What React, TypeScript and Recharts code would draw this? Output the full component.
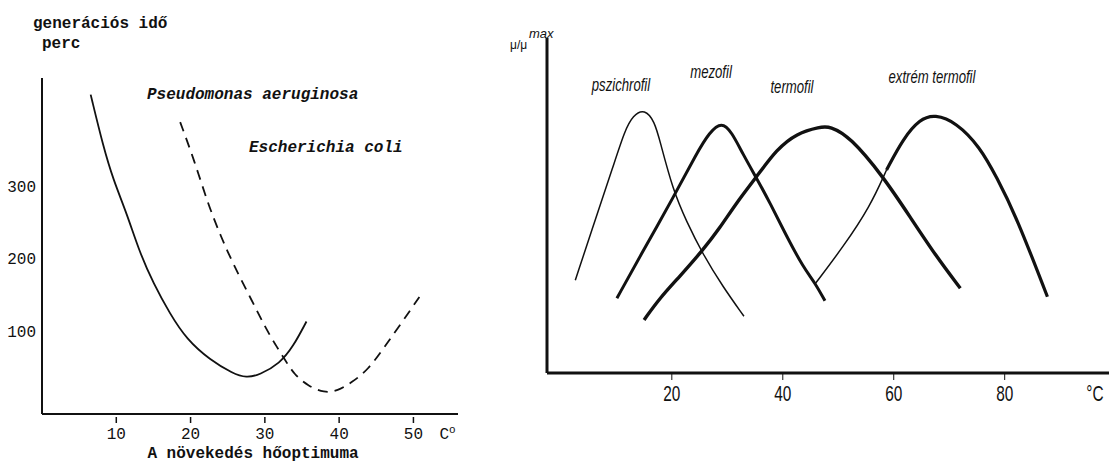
import { LineChart, Line, XAxis, YAxis } from "recharts";

const MONO = '"Liberation Mono", "Courier New", monospace';
const SANS = '"Liberation Sans", Arial, sans-serif';
const INK = "#111";

// left: generation time (perc) against temperature
const leftTempTicks = [10, 20, 30, 40, 50];
const leftTimeTicks = [100, 200, 300];
const leftUnitTick = 54.6;

const pseudomonas = [
  { t: 6.55, g: 427 }, { t: 8.25, g: 355 }, { t: 9.6, g: 309 }, { t: 11.4, g: 263 },
  { t: 13.2, g: 207 }, { t: 15.0, g: 166 }, { t: 17.2, g: 124 }, { t: 19.5, g: 88 },
  { t: 22.6, g: 60 }, { t: 25.7, g: 41 }, { t: 27.5, g: 35 }, { t: 29.3, g: 39 },
  { t: 32.0, g: 55 }, { t: 33.8, g: 78 }, { t: 35.6, g: 113 },
];

const ecoli = [
  { t: 18.6, g: 389 }, { t: 20.5, g: 336 }, { t: 22.3, g: 277 }, { t: 24.1, g: 230 },
  { t: 25.9, g: 189 }, { t: 28.2, g: 143 }, { t: 30.0, g: 106 }, { t: 31.3, g: 83 },
  { t: 32.7, g: 60 }, { t: 34.0, g: 39 }, { t: 35.8, g: 24 }, { t: 38.0, g: 14 },
  { t: 39.8, g: 17 }, { t: 41.6, g: 28 }, { t: 43.9, g: 46 }, { t: 46.1, g: 78 },
  { t: 48.4, g: 111 }, { t: 50.8, g: 147 },
];

// right: relative growth rate (mu/mu max) against temperature
const rightTempTicks = [20, 40, 60, 80];
const rightUnitTick = 97.2;

const psychrophile = [
  { t: 2.6, r: 0.36 }, { t: 6.4, r: 0.608 }, { t: 9.4, r: 0.8 }, { t: 11.5, r: 0.94 },
  { t: 13.0, r: 1.0 }, { t: 15.1, r: 1.025 }, { t: 16.9, r: 0.975 }, { t: 17.8, r: 0.905 },
  { t: 20.2, r: 0.71 }, { t: 22.6, r: 0.59 }, { t: 25.6, r: 0.46 }, { t: 29.2, r: 0.335 },
  { t: 33.0, r: 0.22 },
];

const mesophile = [
  { t: 10.1, r: 0.29 }, { t: 14.2, r: 0.45 }, { t: 20.5, r: 0.69 }, { t: 24.4, r: 0.85 },
  { t: 26.8, r: 0.935 }, { t: 29.0, r: 0.975 }, { t: 30.8, r: 0.935 }, { t: 32.8, r: 0.85 },
  { t: 35.3, r: 0.755 }, { t: 37.7, r: 0.66 }, { t: 40.7, r: 0.53 }, { t: 43.7, r: 0.41 },
  { t: 45.8, r: 0.35 }, { t: 47.6, r: 0.28 },
];

const thermophile = [
  { t: 15.0, r: 0.206 }, { t: 17.8, r: 0.29 }, { t: 21.4, r: 0.374 }, { t: 25.6, r: 0.477 },
  { t: 28.6, r: 0.561 }, { t: 31.6, r: 0.659 }, { t: 35.3, r: 0.762 }, { t: 38.9, r: 0.868 },
  { t: 42.5, r: 0.93 }, { t: 46.7, r: 0.955 }, { t: 48.5, r: 0.958 }, { t: 52.1, r: 0.917 },
  { t: 58.1, r: 0.762 }, { t: 62.9, r: 0.607 }, { t: 67.7, r: 0.451 }, { t: 72.0, r: 0.329 },
];

// extreme thermophile: the rising stretch is drawn thinner in the original
const extremeRise = [
  { t: 45.9, r: 0.348 }, { t: 50.9, r: 0.49 }, { t: 55.7, r: 0.645 }, { t: 58.7, r: 0.788 },
];
const extremeMain = [
  { t: 58.7, r: 0.788 }, { t: 61.7, r: 0.91 }, { t: 64.7, r: 0.985 }, { t: 67.4, r: 1.004 },
  { t: 71.3, r: 0.972 }, { t: 75.5, r: 0.878 }, { t: 78.5, r: 0.762 }, { t: 82.1, r: 0.607 },
  { t: 87.7, r: 0.296 },
];

function LeftTempTick(props: any) {
  const { x, y, payload } = props;
  if (payload.value === leftUnitTick) {
    return (
      <text x={x} y={y + 25} textAnchor="middle" fontFamily={MONO} fontSize={16} fill={INK}>
        C<tspan dy={-6} fontSize={11}>o</tspan>
      </text>
    );
  }
  return (
    <g>
      <line x1={x} y1={y + 3} x2={x} y2={y + 9} stroke={INK} strokeWidth={1.5} />
      <text x={x} y={y + 25} textAnchor="middle" fontFamily={MONO} fontSize={16} fill={INK}>
        {payload.value}
      </text>
    </g>
  );
}

function RightTempTick(props: any) {
  const { x, y, payload } = props;
  const isUnit = payload.value === rightUnitTick;
  return (
    <g>
      {!isUnit && <line x1={x} y1={y + 1} x2={x} y2={y + 7} stroke={INK} strokeWidth={1} />}
      <text
        x={0}
        y={0}
        transform={`translate(${x},${y + 28}) scale(0.7,1)`}
        textAnchor="middle"
        fontFamily={SANS}
        fontSize={22}
        fill={INK}
      >
        {isUnit ? "°C" : payload.value}
      </text>
    </g>
  );
}

const abs = (left: number, top: number, extra: any = {}) => ({
  position: "absolute" as const,
  left,
  top,
  whiteSpace: "nowrap" as const,
  lineHeight: 1,
  color: INK,
  ...extra,
});

const monoLabel = { fontFamily: MONO, fontSize: 16, fontWeight: "bold" };
const curveLabel = {
  fontFamily: SANS,
  fontSize: 18,
  fontStyle: "italic",
  transform: "translate(-50%, -50%) scaleX(0.73)",
};

export default function App() {
  return (
    <div style={{ position: "fixed", left: 0, top: 0, width: 1109, height: 462, background: "#fff", overflow: "hidden" }}>
      <div style={{ position: "absolute", left: 0, top: 0 }}>
        <LineChart width={470} height={462} margin={{ top: 78, right: 12, bottom: 18, left: 0 }}>
          <XAxis
            type="number"
            dataKey="t"
            domain={[0, 56]}
            ticks={[...leftTempTicks, leftUnitTick]}
            tick={LeftTempTick}
            tickLine={false}
            tickSize={0}
            tickMargin={0}
            height={30}
            axisLine={{ stroke: INK, strokeWidth: 2 }}
          />
          <YAxis
            type="number"
            dataKey="g"
            domain={[-15, 450]}
            ticks={leftTimeTicks}
            width={42}
            tickLine={false}
            tickSize={0}
            tickMargin={6}
            axisLine={{ stroke: INK, strokeWidth: 2 }}
            tick={{ fill: INK, fontFamily: MONO, fontSize: 16 }}
          />
          <Line data={pseudomonas} dataKey="g" type="basis" stroke={INK} strokeWidth={1.8} dot={false} isAnimationActive={false} />
          <Line data={ecoli} dataKey="g" type="basis" stroke={INK} strokeWidth={1.8} strokeDasharray="10 7" dot={false} isAnimationActive={false} />
        </LineChart>
      </div>

      <div style={abs(33, 16, monoLabel)}>generációs idő</div>
      <div style={abs(42, 36, monoLabel)}>perc</div>
      <div style={abs(147, 87, { ...monoLabel, fontStyle: "italic" })}>Pseudomonas aeruginosa</div>
      <div style={abs(249, 140, { ...monoLabel, fontStyle: "italic" })}>Escherichia coli</div>
      <div style={abs(253, 454, { ...monoLabel, transform: "translate(-50%, -50%)" })}>A növekedés hőoptimuma</div>

      <div style={{ position: "absolute", left: 500, top: 0 }}>
        <LineChart width={609} height={462} margin={{ top: 38, right: 0, bottom: 59, left: 46 }}>
          <XAxis
            type="number"
            dataKey="t"
            domain={[-2.5, 98.8]}
            ticks={[...rightTempTicks, rightUnitTick]}
            tick={RightTempTick}
            tickLine={false}
            tickSize={0}
            tickMargin={0}
            height={30}
            axisLine={{ stroke: INK, strokeWidth: 3 }}
          />
          <YAxis
            type="number"
            dataKey="r"
            domain={[0, 1.3]}
            width={1}
            tick={false}
            tickLine={false}
            axisLine={{ stroke: INK, strokeWidth: 3 }}
          />
          <Line data={psychrophile} dataKey="r" type="basis" stroke={INK} strokeWidth={1.5} dot={false} isAnimationActive={false} />
          <Line data={mesophile} dataKey="r" type="basis" stroke={INK} strokeWidth={3} dot={false} isAnimationActive={false} />
          <Line data={thermophile} dataKey="r" type="basis" stroke={INK} strokeWidth={3.4} dot={false} isAnimationActive={false} />
          <Line data={extremeRise} dataKey="r" type="basis" stroke={INK} strokeWidth={1.5} dot={false} isAnimationActive={false} />
          <Line data={extremeMain} dataKey="r" type="basis" stroke={INK} strokeWidth={3.2} dot={false} isAnimationActive={false} />
        </LineChart>
      </div>

      <div style={abs(510, 39, { fontFamily: SANS, fontSize: 12 })}>μ/μ</div>
      <div style={abs(529, 27, { fontFamily: SANS, fontSize: 13, fontStyle: "italic" })}>max</div>
      <div style={abs(621, 85, curveLabel)}>pszichrofil</div>
      <div style={abs(711, 72, curveLabel)}>mezofil</div>
      <div style={abs(792, 87, curveLabel)}>termofil</div>
      <div style={abs(932, 77, curveLabel)}>extrém termofil</div>
    </div>
  );
}
